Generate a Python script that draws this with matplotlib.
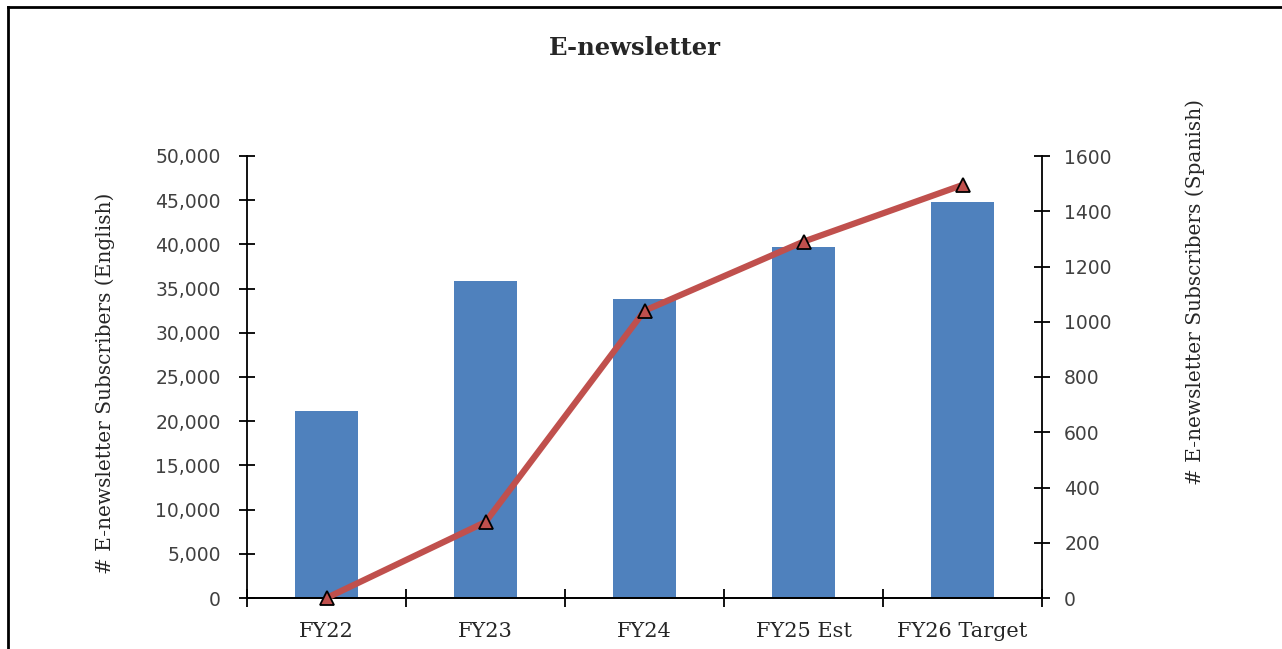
import numpy as np
import matplotlib.pyplot as plt
from matplotlib.lines import Line2D
from matplotlib.ticker import FuncFormatter, FixedLocator

categories = ['FY22', 'FY23', 'FY24', 'FY25 Est', 'FY26 Target']
english = [21100, 35900, 33800, 39700, 44800]
spanish = [0, 275, 1040, 1290, 1495]

serif = ['DejaVu Serif']
sans = ['DejaVu Sans']

W, H = 1282, 649
fig = plt.figure(figsize=(W / 100, H / 100), dpi=100)
ax = fig.add_axes([247 / W, 1 - 598 / H, (1042 - 247) / W, (598 - 156) / H])
ax2 = ax.twinx()

x = np.arange(len(categories))
ax.bar(x, english, width=0.4, color='#4F81BD', zorder=2)
ax2.plot(x, spanish, color='#C0504D', lw=4.5, marker='^', ms=10,
         markerfacecolor='#C0504D', markeredgecolor='black', markeredgewidth=1.3,
         zorder=3, solid_capstyle='round', clip_on=False)

ax.set_xlim(-0.5, len(categories) - 0.5)
ax.set_ylim(0, 50000)
ax2.set_ylim(0, 1600)
ax.set_yticks(np.arange(0, 50001, 5000))
ax.yaxis.set_major_formatter(FuncFormatter(lambda v, p: f'{int(v):,}'))
ax2.set_yticks(np.arange(0, 1601, 200))

ax.set_xticks(x)
ax.set_xticklabels(categories, fontfamily=serif, fontsize=15, color='#262626')
ax.xaxis.set_minor_locator(FixedLocator(np.arange(-0.5, len(categories), 1)))
ax.tick_params(axis='x', which='major', length=0, pad=17)
ax.tick_params(axis='x', which='minor', direction='inout', length=13, width=1.3)

for a in (ax, ax2):
    a.spines['top'].set_visible(False)
    for s in ('left', 'right', 'bottom'):
        a.spines[s].set_linewidth(1.3)
ax.spines['right'].set_visible(False)
ax2.spines['left'].set_visible(False)

ax.tick_params(axis='y', direction='inout', length=12, width=1.3, pad=13, labelsize=13.5, labelcolor='#404040')
ax2.tick_params(axis='y', direction='inout', length=12, width=1.3, pad=10, labelsize=13.5, labelcolor='#404040')
for lab in ax.get_yticklabels() + ax2.get_yticklabels():
    lab.set_fontfamily(sans)

ax.set_ylabel('# E-newsletter Subscribers (English)', fontfamily=serif, fontsize=14.5, color='#262626')
ax2.set_ylabel('# E-newsletter Subscribers (Spanish)', fontfamily=serif, fontsize=14.5,
               rotation=90, color='#262626')
ax.yaxis.set_label_coords((115 - 247) / 795, (598 - 383) / 442)
ax2.yaxis.set_label_coords((1185 - 247) / 795, (598 - 292) / 442)

fig.text(635 / W, 1 - 48 / H, 'E-newsletter', ha='center', va='center',
         fontfamily=serif, fontsize=17.5, fontweight='bold', color='#262626')

# frame lines at the top and left of the picture
fig.add_artist(Line2D([8 / W, 8 / W], [0, 1 - 7 / H], transform=fig.transFigure, color='black', lw=2))
fig.add_artist(Line2D([8 / W, 1], [1 - 7 / H, 1 - 7 / H], transform=fig.transFigure, color='black', lw=2))

fig.savefig('out.png', dpi=100)
